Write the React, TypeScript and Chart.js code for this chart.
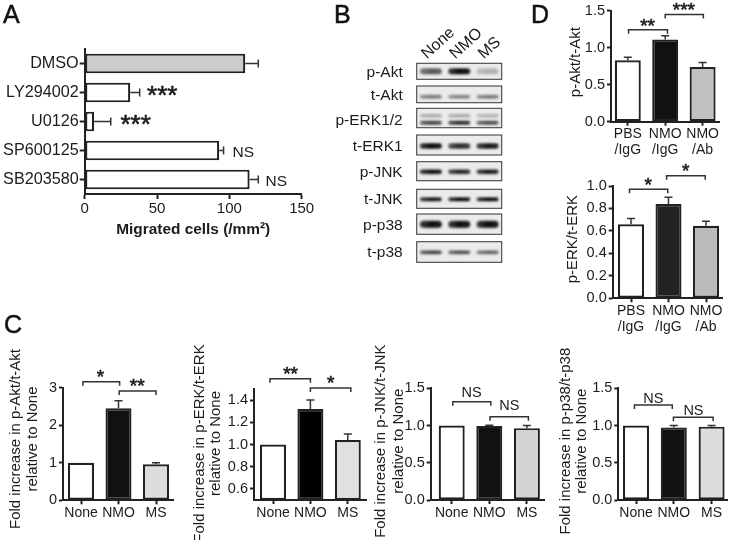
import React, { useEffect, useRef } from "react";
import { Chart, registerables } from "chart.js";

Chart.register(...registerables);

const FONT = '"Liberation Sans", Arial, sans-serif';
const INK = "#1c1c1c";

// Panel A
const treatments = ["DMSO", "LY294002", "U0126", "SP600125", "SB203580"];
const migrated = [111, 31.5, 6.5, 93, 114];
const migratedUpper = [120, 38, 18, 96, 120];
const migratedColors = ["#cccccc", "#ffffff", "#ffffff", "#ffffff", "#ffffff"];
const migratedTicks = [0, 50, 100, 150];
const migratedSig = ["", "***", "***", "NS", "NS"];
const migratedSigAt = [0, 53.6, 35.2, 109.6, 132.4];

// Panel B
const lanes = ["None", "NMO", "MS"];
const blotTargets = ["p-Akt", "t-Akt", "p-ERK1/2", "t-ERK1", "p-JNK", "t-JNK", "p-p38", "t-p38"];
const blotLabelPos = [72.5, 95.7, 120.5, 146.5, 172.5, 200, 225.5, 252.5];
const frameTop = [63.3, 86, 108.3, 135, 161.7, 189.3, 214, 241.7];
const frameBottom = [79.3, 102.7, 127.7, 155, 180.7, 208.3, 234.3, 262.3];
const bandPos = [71.3, 96.7, 115.7, 122.7, 146, 171.7, 199.3, 224.3, 252.3];
const bandThick = [6, 3.5, 3, 4, 5.5, 4.5, 4, 7, 3.5];
const bandNone = [0.65, 0.55, 0.35, 0.75, 1, 1, 0.95, 1, 0.8];
const bandNMO = [1, 0.5, 0.35, 0.85, 0.85, 0.9, 1, 1, 0.75];
const bandMS = [0.25, 0.55, 0.3, 0.7, 0.95, 0.95, 1, 1, 0.65];

// Panel C
const conditionsC = ["None", "NMO", "MS"];
const akt = [1, 2.45, 0.96];
const aktUpper = [1, 2.65, 1.0];
const erk = [1, 1.32, 1.04];
const erkUpper = [1, 1.4, 1.095];
const jnk = [1, 0.995, 0.965];
const jnkUpper = [1, 1.003, 1.0];
const p38 = [1, 0.975, 0.985];
const p38Upper = [1, 1.0, 1.0];
const aktTicks = [0, 1, 2, 3];
const erkTicks = [0.6, 0.8, 1.0, 1.2, 1.4];
const halfTicks = [0, 0.5, 1.0, 1.5];

// Panel D
const conditionsD = [["PBS", "/IgG"], ["NMO", "/IgG"], ["NMO", "/Ab"]];
const aktD = [0.83, 1.11, 0.74];
const aktDUpper = [0.87, 1.16, 0.8];
const erkD = [0.66, 0.84, 0.645];
const erkDUpper = [0.71, 0.9, 0.685];
const erkDTicks = [0, 0.2, 0.4, 0.6, 0.8, 1.0];

type Box = [number, number, number, number];
type Plot = [number, number, number, number];

function text(ctx: CanvasRenderingContext2D, s: string, x: number, cy: number, size: number, weight = "") {
  ctx.save();
  ctx.fillStyle = INK;
  ctx.font = `${weight} ${size}px ${FONT}`;
  ctx.textAlign = "center";
  ctx.textBaseline = "alphabetic";
  ctx.fillText(s, x, s.includes("*") ? cy + 0.42 * size : cy + 0.36 * size);
  if (s.includes("*")) {
    ctx.strokeStyle = INK;
    ctx.lineWidth = 0.6;
    ctx.strokeText(s, x, cy + 0.42 * size);
  }
  ctx.restore();
}

function letter(ctx: CanvasRenderingContext2D, s: string, box: Box, x: number, y: number) {
  ctx.save();
  ctx.fillStyle = "#111";
  ctx.strokeStyle = "#111";
  ctx.lineWidth = 0.5;
  ctx.font = `25px ${FONT}`;
  ctx.textAlign = "left";
  ctx.textBaseline = "alphabetic";
  ctx.fillText(s, x - box[0], y - box[1]);
  ctx.strokeText(s, x - box[0], y - box[1]);
  ctx.restore();
}

function shiftTitle(scale: any, dy: number) {
  if (scale.__shifted) return;
  scale.__shifted = true;
  const orig = scale.drawTitle.bind(scale);
  scale.drawTitle = () => {
    const t = scale.top;
    const b = scale.bottom;
    scale.top = t + dy;
    scale.bottom = b + dy;
    orig();
    scale.top = t;
    scale.bottom = b;
  };
}

function whiskers(chart: any, upper: number[], horizontal: boolean) {
  const ctx = chart.ctx;
  const meta = chart.getDatasetMeta(0);
  const scale = horizontal ? chart.scales.x : chart.scales.y;
  ctx.save();
  ctx.strokeStyle = "#333";
  ctx.lineWidth = 1.5;
  meta.data.forEach((el: any, i: number) => {
    const value = (chart.data.datasets[0].data[i] as any);
    const v = typeof value === "number" ? value : value.y;
    if (upper[i] <= v) return;
    const end = scale.getPixelForValue(upper[i]);
    ctx.beginPath();
    if (horizontal) {
      ctx.moveTo(el.x, el.y);
      ctx.lineTo(end, el.y);
      ctx.moveTo(end, el.y - 4);
      ctx.lineTo(end, el.y + 4);
    } else {
      ctx.moveTo(el.x, el.y);
      ctx.lineTo(el.x, end);
      ctx.moveTo(el.x - 4, end);
      ctx.lineTo(el.x + 4, end);
    }
    ctx.stroke();
  });
  ctx.restore();
}

interface Bracket { from: number; to: number; y: number; mark: string; markX: number; markY: number; size: number; }

interface BarPanel {
  box: Box;
  plot: Plot;
  center0: number;
  spacing: number;
  categories: any[];
  values: number[];
  upper: number[];
  colors: string[];
  yMin: number;
  yMax: number;
  yTicks: number[];
  decimals: number;
  title: string | string[];
  titleFirstX: number;
  titleLine: number;
  titleShift: number;
  brackets: Bracket[];
  letter?: [string, number, number];
}

function barConfig(p: BarPanel): any {
  const [bx, by, bw, bh] = p.box;
  const [L, T, R, B] = p.plot;
  const padLeft = p.titleFirstX - bx - p.titleLine / 2;
  const titleSize = 15;
  return {
    type: "bar",
    data: {
      labels: p.categories,
      datasets: [
        {
          data: p.values.map((v, i) => ({ x: i, y: v })),
          backgroundColor: p.colors,
          borderColor: "#222",
          borderWidth: 2.2,
          borderSkipped: false,
          base: p.yMin,
          barPercentage: 26 / p.spacing,
          categoryPercentage: 1,
        },
      ],
    },
    options: {
      responsive: false,
      animation: false,
      events: [],
      layout: { autoPadding: false, padding: { left: padLeft, top: T - by, right: bx + bw - R, bottom: 0 } },
      plugins: { legend: { display: false }, tooltip: { enabled: false } },
      scales: {
        x: {
          type: "linear",
          offset: false,
          min: (L - p.center0) / p.spacing,
          max: (R - p.center0) / p.spacing,
          afterBuildTicks: (s: any) => { s.ticks = p.categories.map((_, i) => ({ value: i })); },
          afterFit: (s: any) => { s.height = by + bh - B; },
          grid: { display: true, drawOnChartArea: false, offset: false, color: "#222", tickLength: 4, tickWidth: 2 },
          border: { color: "#222", width: 2 },
          ticks: {
            autoSkip: false,
            maxRotation: 0,
            padding: 1,
            color: INK,
            font: { family: FONT, size: 14, lineHeight: 1.13 },
            callback: (v: number) => p.categories[v],
          },
        },
        y: {
          min: p.yMin,
          max: p.yMax,
          afterBuildTicks: (s: any) => { s.ticks = p.yTicks.map((v) => ({ value: v })); },
          afterFit: (s: any) => { s.width = L - bx - padLeft; shiftTitle(s, p.titleShift); },
          grid: { display: true, drawOnChartArea: false, color: "#222", tickLength: 4, tickWidth: 2 },
          border: { color: "#222", width: 2 },
          ticks: {
            padding: 2,
            color: INK,
            font: { family: FONT, size: 14.5 },
            callback: (v: number) => v.toFixed(p.decimals),
          },
          title: {
            display: true,
            text: p.title,
            color: INK,
            padding: 0,
            font: { family: FONT, size: titleSize, lineHeight: p.titleLine / titleSize },
          },
        },
      },
    },
    plugins: [
      {
        id: "overlay",
        afterDatasetsDraw(chart: any) {
          const ctx = chart.ctx;
          const { x, y } = chart.scales;
          whiskers(chart, p.upper, false);
          ctx.save();
          ctx.strokeStyle = "#333";
          ctx.lineWidth = 1.5;
          p.brackets.forEach((b) => {
            const yy = y.getPixelForValue(b.y);
            ctx.beginPath();
            ctx.moveTo(x.getPixelForValue(b.from), yy + 4);
            ctx.lineTo(x.getPixelForValue(b.from), yy);
            ctx.lineTo(x.getPixelForValue(b.to), yy);
            ctx.lineTo(x.getPixelForValue(b.to), yy + 4);
            ctx.stroke();
            text(ctx, b.mark, x.getPixelForValue(b.markX), y.getPixelForValue(b.markY), b.size);
          });
          ctx.restore();
          if (p.letter) letter(ctx, p.letter[0], p.box, p.letter[1], p.letter[2]);
        },
      },
    ],
  };
}

const panelsC: BarPanel[] = [
  {
    box: [0, 310, 190, 230], plot: [63, 387.7, 173, 500.3], center0: 81, spacing: 37.5,
    categories: conditionsC, values: akt, upper: aktUpper, colors: ["#ffffff", "#111111", "#dddddd"],
    yMin: 0, yMax: 3, yTicks: aktTicks, decimals: 0,
    title: ["Fold increase in p-Akt/t-Akt", "relative to None"], titleFirstX: 16, titleLine: 17, titleShift: -5,
    brackets: [
      { from: 0.05, to: 1.03, y: 3.16, mark: "*", markX: 0.52, markY: 3.34, size: 19 },
      { from: 1.02, to: 2.0, y: 2.91, mark: "**", markX: 1.5, markY: 3.1, size: 19 },
    ],
    letter: ["C", 4, 333],
  },
  {
    box: [190, 340, 180, 200], plot: [254, 389, 366, 500], center0: 273, spacing: 37.4,
    categories: conditionsC, values: erk, upper: erkUpper, colors: ["#ffffff", "#000000", "#e0e0e0"],
    yMin: 0.5, yMax: 1.5, yTicks: erkTicks, decimals: 1,
    title: ["Fold increase in p-ERK/t-ERK", "relative to None"], titleFirstX: 200, titleLine: 16, titleShift: -1,
    brackets: [
      { from: -0.08, to: 1.0, y: 1.592, mark: "**", markX: 0.47, markY: 1.652, size: 19 },
      { from: 1.0, to: 2.08, y: 1.509, mark: "*", markX: 1.54, markY: 1.571, size: 19 },
    ],
  },
  {
    box: [370, 340, 180, 200], plot: [430.7, 388.3, 544, 500], center0: 451.7, spacing: 37.6,
    categories: conditionsC, values: jnk, upper: jnkUpper, colors: ["#ffffff", "#111111", "#d4d4d4"],
    yMin: 0, yMax: 1.5, yTicks: halfTicks, decimals: 1,
    title: ["Fold increase in p-JNK/t-JNK", "relative to None"], titleFirstX: 381, titleLine: 18, titleShift: -3,
    brackets: [
      { from: 0.03, to: 1.04, y: 1.32, mark: "NS", markX: 0.53, markY: 1.454, size: 14.5 },
      { from: 1.02, to: 2.04, y: 1.118, mark: "NS", markX: 1.53, markY: 1.275, size: 14.5 },
    ],
  },
  {
    box: [550, 340, 182, 200], plot: [618.3, 388.3, 727, 500], center0: 636, spacing: 37.8,
    categories: conditionsC, values: p38, upper: p38Upper, colors: ["#ffffff", "#111111", "#dddddd"],
    yMin: 0, yMax: 1.5, yTicks: halfTicks, decimals: 1,
    title: ["Fold increase in p-p38/t-p38", "relative to None"], titleFirstX: 566, titleLine: 16, titleShift: -3,
    brackets: [
      { from: -0.04, to: 0.96, y: 1.275, mark: "NS", markX: 0.46, markY: 1.378, size: 14.5 },
      { from: 0.99, to: 2.04, y: 1.11, mark: "NS", markX: 1.52, markY: 1.217, size: 14.5 },
    ],
  },
];

const panelsD: BarPanel[] = [
  {
    box: [530, 0, 202, 160], plot: [611, 8.3, 719, 121.7], center0: 627.8, spacing: 37.4,
    categories: conditionsD, values: aktD, upper: aktDUpper, colors: ["#ffffff", "#111111", "#c0c0c0"],
    yMin: 0, yMax: 1.5, yTicks: halfTicks, decimals: 1,
    title: "p-Akt/t-Akt", titleFirstX: 576, titleLine: 17, titleShift: -4,
    brackets: [
      { from: 0.02, to: 1.06, y: 1.243, mark: "**", markX: 0.53, markY: 1.323, size: 19 },
      { from: 1.0, to: 2.02, y: 1.447, mark: "***", markX: 1.5, markY: 1.53, size: 19 },
    ],
    letter: ["D", 531, 23],
  },
  {
    box: [530, 160, 202, 180], plot: [612.7, 186, 722, 298.3], center0: 631, spacing: 37.5,
    categories: conditionsD, values: erkD, upper: erkDUpper, colors: ["#ffffff", "#222222", "#bbbbbb"],
    yMin: 0, yMax: 1, yTicks: erkDTicks, decimals: 1,
    title: "p-ERK/t-ERK", titleFirstX: 572.7, titleLine: 17, titleShift: -3,
    brackets: [
      { from: -0.04, to: 0.98, y: 0.97, mark: "*", markX: 0.46, markY: 1.024, size: 19 },
      { from: 0.95, to: 1.98, y: 1.092, mark: "*", markX: 1.46, markY: 1.15, size: 19 },
    ],
  },
];

function panelAConfig(): any {
  const box: Box = [0, 0, 320, 240];
  const [L, T, R, B] = [84.7, 49, 301.7, 194];
  return {
    type: "bar",
    data: {
      labels: treatments,
      datasets: [
        {
          data: migrated,
          backgroundColor: migratedColors,
          borderColor: "#222",
          borderWidth: 2.2,
          borderSkipped: false,
          barPercentage: 0.68,
          categoryPercentage: 1,
        },
      ],
    },
    options: {
      indexAxis: "y",
      responsive: false,
      animation: false,
      events: [],
      layout: { autoPadding: false, padding: { left: 0, top: T, right: box[2] - R, bottom: 0 } },
      plugins: { legend: { display: false }, tooltip: { enabled: false } },
      scales: {
        x: {
          min: 0,
          max: 150,
          afterBuildTicks: (s: any) => { s.ticks = migratedTicks.map((v) => ({ value: v })); },
          afterFit: (s: any) => { s.height = box[3] - B; },
          grid: { drawOnChartArea: false, color: "#222", tickLength: 5, tickWidth: 2 },
          border: { color: "#222", width: 2 },
          ticks: { color: INK, padding: 1, font: { family: FONT, size: 15 } },
          title: {
            display: true,
            text: "Migrated cells (/mm\u00B2)",
            color: INK,
            padding: { top: 0, bottom: 1 },
            font: { family: FONT, size: 15.4, weight: "bold", lineHeight: 1.15 },
          },
        },
        y: {
          type: "category",
          offset: true,
          afterFit: (s: any) => { s.width = L; },
          grid: { drawOnChartArea: false, offset: false, color: "#222", tickLength: 5, tickWidth: 2 },
          border: { color: "#222", width: 2 },
          ticks: { color: INK, padding: 1, autoSkip: false, font: { family: FONT, size: 16.2 } },
        },
      },
    },
    plugins: [
      {
        id: "overlay",
        afterDatasetsDraw(chart: any) {
          const { x, y } = chart.scales;
          whiskers(chart, migratedUpper, true);
          migratedSig.forEach((s, i) => {
            if (s) text(chart.ctx, s, x.getPixelForValue(migratedSigAt[i]), y.getPixelForValue(i) + 0.5, s.includes("*") ? 26 : 15.5);
          });
          letter(chart.ctx, "A", box, 3, 23);
        },
      },
    ],
  };
}

function bandImage(alpha: number, thick: number) {
  const c = document.createElement("canvas");
  c.width = 30;
  c.height = 16;
  const g = c.getContext("2d")!;
  g.filter = "blur(1px)";
  const grad = g.createLinearGradient(4, 0, 26, 0);
  grad.addColorStop(0, `rgba(10,10,10,${alpha * 0.75})`);
  grad.addColorStop(0.5, `rgba(10,10,10,${alpha})`);
  grad.addColorStop(1, `rgba(10,10,10,${alpha * 0.9})`);
  g.fillStyle = grad;
  g.beginPath();
  g.roundRect(4, 8 - thick / 2, 22, thick, thick / 2);
  g.fill();
  return c;
}

function panelBConfig(): any {
  const box: Box = [320, 0, 210, 290];
  const [L, T, R, B] = [416.7, 63.3, 501.7, 262.3];
  const series = [bandNone, bandNMO, bandMS];
  return {
    type: "scatter",
    data: {
      labels: lanes,
      datasets: lanes.map((lane, l) => ({
        data: bandPos.map((pos) => ({ x: lane, y: pos })),
        pointStyle: bandPos.map((_, i) => bandImage(series[l][i], bandThick[i])),
        pointRadius: 8,
        showLine: false,
        clip: false,
      })),
    },
    options: {
      responsive: false,
      animation: false,
      events: [],
      layout: { autoPadding: false, padding: { left: 0, top: 0, right: box[0] + box[2] - R, bottom: box[3] - (B - box[1]) } },
      plugins: { legend: { display: false }, tooltip: { enabled: false } },
      scales: {
        x: {
          type: "category",
          position: "top",
          offset: true,
          labels: lanes,
          afterFit: (s: any) => { s.height = T - box[1]; },
          grid: { display: false },
          border: { display: false },
          ticks: { color: INK, autoSkip: false, maxRotation: 42, minRotation: 42, padding: -8, labelOffset: 6, font: { family: FONT, size: 16 } },
        },
        y: {
          type: "linear",
          reverse: true,
          min: T,
          max: B,
          afterBuildTicks: (s: any) => { s.ticks = blotLabelPos.map((v) => ({ value: v })); },
          afterFit: (s: any) => { s.width = L - box[0]; },
          grid: { display: false },
          border: { display: false },
          ticks: { color: INK, padding: 6, font: { family: FONT, size: 15.5 }, callback: (_: number, i: number) => blotTargets[i] },
        },
      },
    },
    plugins: [
      {
        id: "frames",
        beforeDatasetsDraw(chart: any) {
          const ctx = chart.ctx;
          const { y } = chart.scales;
          const { left, right } = chart.chartArea;
          ctx.save();
          frameTop.forEach((t, i) => {
            const top = y.getPixelForValue(t);
            const h = y.getPixelForValue(frameBottom[i]) - top;
            ctx.fillStyle = "#ebebeb";
            ctx.strokeStyle = "#444";
            ctx.lineWidth = 1.1;
            ctx.fillRect(left, top, right - left, h);
            ctx.strokeRect(left, top, right - left, h);
          });
          ctx.restore();
          letter(ctx, "B", box, 334, 23);
        },
      },
    ],
  };
}

function ChartBox({ box, build }: { box: Box; build: () => any }) {
  const ref = useRef<HTMLCanvasElement | null>(null);
  useEffect(() => {
    const chart = new Chart(ref.current!, build());
    return () => chart.destroy();
  }, []);
  return (
    <canvas
      ref={ref}
      width={box[2]}
      height={box[3]}
      style={{ position: "absolute", left: box[0], top: box[1], width: box[2], height: box[3], display: "block", filter: "blur(0.45px)" }}
    />
  );
}

export default function App() {
  return (
    <div style={{ position: "absolute", left: 0, top: 0, width: 732, height: 540, background: "#fff", overflow: "hidden" }}>
      <ChartBox box={[0, 0, 320, 240]} build={panelAConfig} />
      <ChartBox box={[320, 0, 210, 290]} build={panelBConfig} />
      {panelsD.map((p, i) => (
        <ChartBox key={"d" + i} box={p.box} build={() => barConfig(p)} />
      ))}
      {panelsC.map((p, i) => (
        <ChartBox key={"c" + i} box={p.box} build={() => barConfig(p)} />
      ))}
    </div>
  );
}
